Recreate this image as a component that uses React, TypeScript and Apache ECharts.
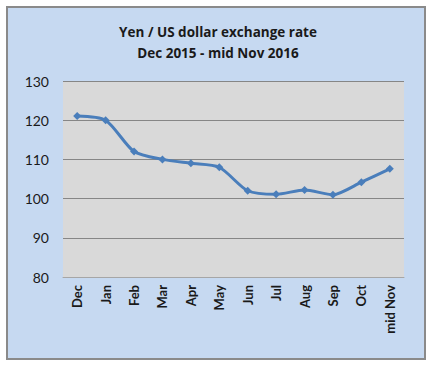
import React, { useEffect, useRef } from "react";
import * as echarts from "echarts";

const categories = ["Dec", "Jan", "Feb", "Mar", "Apr", "May", "Jun", "Jul", "Aug", "Sep", "Oct", "mid Nov"];
const rates = [121.1, 120.0, 112.0, 110.0, 109.0, 108.0, 102.0, 101.1, 102.2, 101.0, 104.2, 107.6];
const titleLines = ["Yen / US dollar exchange rate", "Dec 2015 - mid Nov 2016"];

export default function App() {
  const ref = useRef<HTMLDivElement>(null);
  useEffect(() => {
    document.body.style.margin = "0";
    const chart = echarts.init(ref.current!, null, { renderer: "svg" });
    const font = "Lato, 'Open Sans', sans-serif";
    chart.setOption({
      animation: false,
      backgroundColor: "#ffffff",
      graphic: [
        {
          type: "rect",
          z: -10,
          shape: { x: 7, y: 7, width: 418, height: 352 },
          style: { fill: "#c6d9f1", stroke: "#8a8a8a", lineWidth: 2 },
        },
      ],
      title: {
        text: titleLines.join("\n"),
        left: "center",
        top: 21,
        padding: 0,
        textStyle: { fontFamily: "'Open Sans', sans-serif", fontSize: 13.5, fontWeight: "bold", color: "#1a1a1a", lineHeight: 21 },
      },
      grid: {
        left: 63,
        top: 81,
        width: 341,
        height: 196,
        show: true,
        backgroundColor: "#d9d9d9",
        borderWidth: 0,
      },
      xAxis: {
        type: "category",
        data: categories,
        boundaryGap: true,
        axisLine: { show: true, lineStyle: { color: "#a6a6a6", width: 1 } },
        axisTick: { show: false },
        axisLabel: {
          rotate: 90,
          margin: 8,
          interval: 0,
          fontFamily: font,
          fontSize: 13,
          fontWeight: "bold",
          color: "#1a1a1a",
        },
      },
      yAxis: {
        type: "value",
        min: 80,
        max: 130,
        interval: 10,
        axisLine: { show: false },
        axisTick: { show: false },
        splitLine: { lineStyle: { color: "#868686", width: 1 } },
        axisLabel: { margin: 14, fontFamily: font, fontSize: 14, color: "#1a1a1a" },
      },
      series: [
        {
          type: "line",
          data: rates,
          smooth: 0.25,
          symbol: "diamond",
          symbolSize: 8,
          lineStyle: { color: "#4a7ebb", width: 3 },
          itemStyle: { color: "#4a7ebb" },
        },
      ],
    });
    return () => chart.dispose();
  }, []);
  return <div ref={ref} style={{ width: 436, height: 367 }} />;
}
